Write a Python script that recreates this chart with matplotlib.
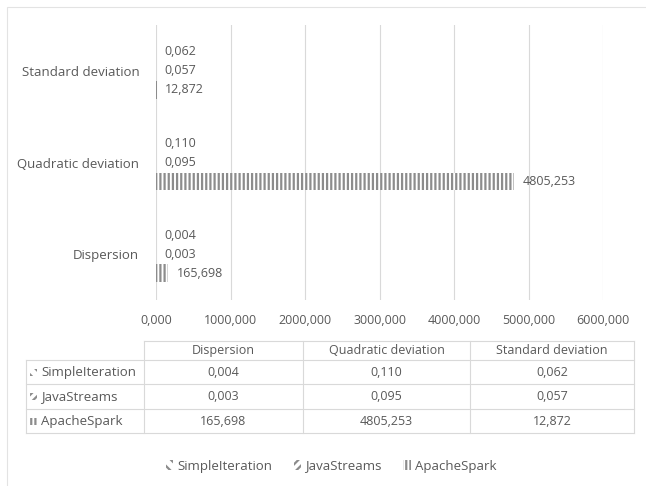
import matplotlib.pyplot as plt
import numpy as np
from matplotlib.patches import Patch, Rectangle

# Data
categories = ['Dispersion', 'Quadratic deviation', 'Standard deviation']
series = ['SimpleIteration', 'JavaStreams', 'ApacheSpark']
simple_iteration = [0.004, 0.110, 0.062]
java_streams = [0.003, 0.095, 0.057]
apache_spark = [165.698, 4805.253, 12.872]
x_ticks = [0, 1000, 2000, 3000, 4000, 5000, 6000]

TEXT = '#595959'
GRID = '#d9d9d9'
HATCH_C = '#8c8c8c'
plt.rcParams['font.family'] = ['Open Sans', 'DejaVu Sans']
plt.rcParams['hatch.color'] = HATCH_C
plt.rcParams['hatch.linewidth'] = 1.6
FS = 9


def fmt(v):
    return f'{v:.3f}'.replace('.', ',')


W, H = 646, 486
fig = plt.figure(figsize=(6.46, 4.86), dpi=100)
# outer chart frame (only left and top edges fall inside the picture)
fig.patches.append(Rectangle((7 / W, -0.01), 1.0, 1 - 7 / H + 0.01, transform=fig.transFigure,
                             fill=False, edgecolor='#e3e3e3', linewidth=0.8))

ax = fig.add_axes([156 / W, 1 - 300 / H, 447 / W, 275 / H])
y = np.arange(len(categories))
h = 0.207
values = [simple_iteration, java_streams, apache_spark]
hatches = ['\\\\\\', '////', '||||']
offsets = [h, 0, -h]
for vals, hatch, off, name in zip(values, hatches, offsets, series):
    ax.barh(y + off, vals, height=h * 0.92, color='white', hatch=hatch,
            edgecolor=HATCH_C, linewidth=0, label=name)
    for yi, v in zip(y + off, vals):
        ax.annotate(fmt(v), (v, yi), xytext=(6, 0), textcoords='offset points',
                    va='center', ha='left', fontsize=FS, color=TEXT)

ax.set_xlim(0, 6000)
ax.set_ylim(-0.5, 2.5)
ax.set_xticks(x_ticks)
ax.set_xticklabels([fmt(t) for t in x_ticks], fontsize=FS, color=TEXT)
ax.set_yticks(y)
ax.set_yticklabels(categories, fontsize=9.5, color=TEXT)
ax.tick_params(axis='x', length=0, pad=10)
ax.tick_params(axis='y', length=0, pad=12)
ax.grid(axis='x', color=GRID, linewidth=0.8)
ax.set_axisbelow(True)
for s in ax.spines.values():
    s.set_visible(False)

# Data table (pixel coordinates)
tab = fig.add_axes([0, 0, 1, 1])
tab.set_xlim(0, W)
tab.set_ylim(H, 0)
tab.axis('off')
col_edges = [26, 144, 303, 470, 634]
row_edges = [341, 360, 384, 409, 433]
lc = dict(color=GRID, linewidth=0.8)
tab.plot([col_edges[1], col_edges[-1]], [row_edges[0]] * 2, **lc)
for r in row_edges[1:]:
    tab.plot([col_edges[0], col_edges[-1]], [r, r], **lc)
for i, c in enumerate(col_edges):
    top = row_edges[0] if i > 0 else row_edges[1]
    tab.plot([c, c], [top, row_edges[-1]], **lc)
centers = [(col_edges[j] + col_edges[j + 1]) / 2 for j in range(1, 4)]
for xc, cat in zip(centers, categories):
    tab.text(xc, (row_edges[0] + row_edges[1]) / 2, cat,
             ha='center', va='center', fontsize=FS, color=TEXT)
for i, (name, vals, hatch) in enumerate(zip(series, values, hatches)):
    yc = (row_edges[i + 1] + row_edges[i + 2]) / 2
    tab.add_patch(Rectangle((30, yc - 3.5), 7, 7, facecolor='white', hatch=hatch,
                            edgecolor=HATCH_C, linewidth=0))
    tab.text(41, yc, name, ha='left', va='center', fontsize=9.5, color=TEXT)
    for xc, v in zip(centers, vals):
        tab.text(xc, yc, fmt(v), ha='center', va='center', fontsize=FS, color=TEXT)

handles = [Patch(facecolor='white', hatch=hh, edgecolor=HATCH_C, linewidth=0, label=n)
           for hh, n in zip(hatches, series)]
fig.legend(handles=handles, loc='center', bbox_to_anchor=(331 / W, 1 - 466 / H), ncol=3,
           frameon=False, fontsize=9.5, labelcolor=TEXT, handlelength=0.6, handleheight=0.8,
           handletextpad=0.3, columnspacing=1.6)

fig.savefig('out.png', dpi=100)
